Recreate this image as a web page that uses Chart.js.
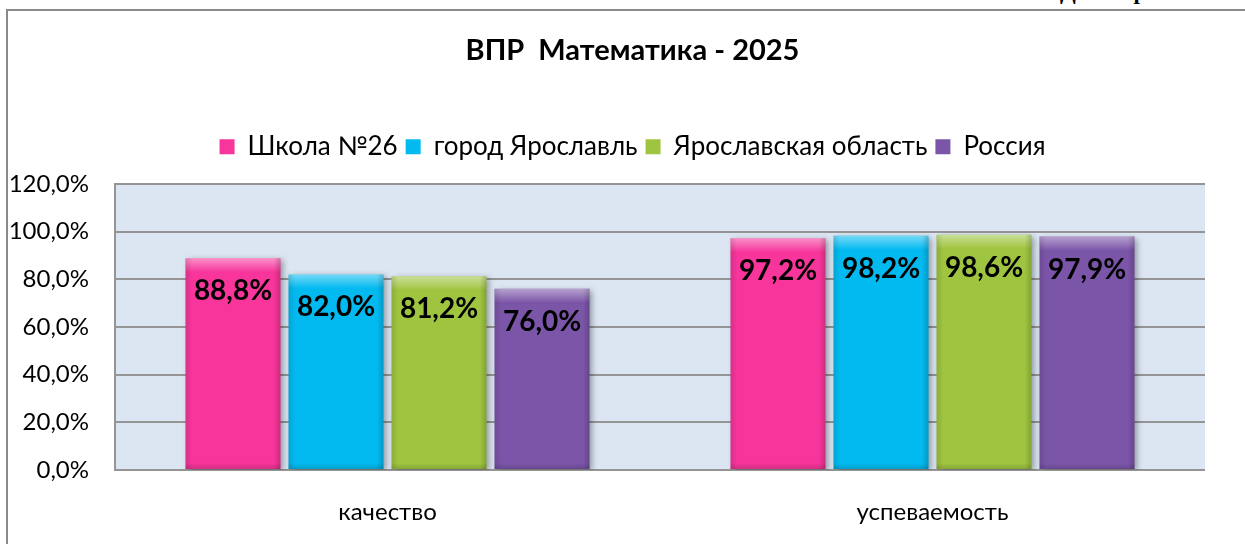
<!DOCTYPE html>
<html>
<head>
<meta charset="utf-8">
<script src="https://cdn.jsdelivr.net/npm/chart.js@4.4.1/dist/chart.umd.min.js"></script>
<style>
  html, body { margin: 0; padding: 0; background: #fff; }
  #wrap { position: relative; width: 1245px; height: 544px; overflow: hidden; }
  #frame { position: absolute; left: 6px; top: 9px; width: 1300px; height: 600px;
           border-left: 2px solid #8a8a8a; border-top: 2px solid #8a8a8a; }
  #cut { position: absolute; top: -21px; left: 1060px; font: bold 23px "Liberation Serif", serif;
         color: #000; word-spacing: 52px; }
  #myChart { position: absolute; left: 0; top: 0; }
</style>
</head>
<body>
<div id="wrap">
  <div id="frame"></div>
  <div id="cut">Д р</div>
  <canvas id="myChart" width="1245" height="544"></canvas>
</div>
<script>
const categories = ['качество', 'успеваемость'];
const seriesNames = ['Школа №26', 'город Ярославль', 'Ярославская область', 'Россия'];
const school = [88.8, 97.2];
const city = [82.0, 98.2];
const region = [81.2, 98.6];
const russia = [76.0, 97.9];
const yTicks = [0, 20, 40, 60, 80, 100, 120];
const barColors = ['#f7359b', '#03baf0', '#9fc540', '#7b55a8'];

const fmt = v => v.toFixed(1).replace('.', ',') + '%';

// plot background + layout tweaks
const plotBg = {
	id: 'plotBg',
	beforeUpdate(chart) {
		// extra room under the legend
		if (chart.legend && !chart.legend._patched) {
			const orig = chart.legend.fit;
			chart.legend.fit = function() {
				orig.call(this);
				this.height += 14;
			};
			chart.legend._patched = true;
		}
	},
	afterLayout(chart) {
		// title and legend sit a bit right of the canvas centre
		[chart.titleBlock, chart.legend].forEach(b => {
			if (b) { b.left += 10; b.right += 10; }
		});
	},
	beforeDraw(chart) {
		const {ctx, chartArea: a} = chart;
		ctx.save();
		ctx.fillStyle = '#dce6f2';
		ctx.fillRect(a.left, a.top, a.right - a.left, a.bottom - a.top);
		ctx.restore();
	}
};

// shadow + bevel look for bars
const barLook = {
	id: 'barLook',
	beforeDatasetsDraw(chart) {
		const ctx = chart.ctx;
		ctx.save();
		ctx.shadowColor = 'rgba(0,0,0,0.35)';
		ctx.shadowBlur = 6;
		ctx.shadowOffsetX = 3;
		ctx.shadowOffsetY = 2;
	},
	afterDatasetsDraw(chart) {
		const ctx = chart.ctx;
		ctx.restore();
		chart.data.datasets.forEach((ds, i) => {
			chart.getDatasetMeta(i).data.forEach(bar => {
				const l = bar.x - bar.width / 2, r = bar.x + bar.width / 2;
				const t = bar.y, b = bar.base;
				ctx.save();
				let g = ctx.createLinearGradient(0, t, 0, t + 14);
				g.addColorStop(0, 'rgba(255,255,255,0.45)');
				g.addColorStop(1, 'rgba(255,255,255,0)');
				ctx.fillStyle = g;
				ctx.fillRect(l, t, r - l, 14);
				g = ctx.createLinearGradient(l, 0, r, 0);
				g.addColorStop(0, 'rgba(0,0,0,0.12)');
				g.addColorStop(0.07, 'rgba(0,0,0,0)');
				g.addColorStop(0.93, 'rgba(0,0,0,0)');
				g.addColorStop(1, 'rgba(0,0,0,0.18)');
				ctx.fillStyle = g;
				ctx.fillRect(l, t, r - l, b - t);
				g = ctx.createLinearGradient(0, b - 6, 0, b);
				g.addColorStop(0, 'rgba(0,0,0,0)');
				g.addColorStop(1, 'rgba(0,0,0,0.15)');
				ctx.fillStyle = g;
				ctx.fillRect(l, b - 6, r - l, 6);
				ctx.restore();
			});
		});
		// value labels
		ctx.save();
		ctx.font = 'bold 28px Lato';
		ctx.fillStyle = '#000';
		ctx.textAlign = 'center';
		ctx.textBaseline = 'middle';
		chart.data.datasets.forEach((ds, i) => {
			chart.getDatasetMeta(i).data.forEach((bar, j) => {
				ctx.fillText(fmt(ds.data[j]), bar.x, bar.y + 33);
			});
		});
		ctx.restore();
	}
};

const allSeries = [school, city, region, russia];

const myChart = document.getElementById('myChart');
let barChart = new Chart(myChart, {
	type: 'bar',
	data: {
		labels: categories,
		datasets: allSeries.map((s, i) => ({
			label: seriesNames[i],
			data: s,
			backgroundColor: barColors[i],
			borderWidth: 0,
			categoryPercentage: 0.756,
			barPercentage: 0.922
		}))
	},
	options: {
		responsive: false,
		animation: false,
		layout: { padding: 0 },
		plugins: {
			tooltip: { enabled: false },
			title: {
				display: true,
				text: 'ВПР  Математика - 2025',
				color: '#000',
				font: { family: 'Lato', size: 29, weight: 'bold', lineHeight: 1.2 },
				padding: { top: 33, bottom: 58 }
			},
			legend: {
				display: true,
				labels: {
					color: '#000',
					font: { family: 'Lato', size: 26 },
					boxWidth: 15,
					boxHeight: 15,
					padding: 8,
					generateLabels(chart) {
						return chart.data.datasets.map((ds, i) => ({
							text: ds.label,
							fillStyle: barColors[i],
							strokeStyle: barColors[i],
							lineWidth: 0,
							datasetIndex: i
						}));
					}
				}
			}
		},
		scales: {
			x: {
				grid: { display: false },
				border: { display: false },
				ticks: { color: '#000', font: { family: 'Lato', size: 24 }, padding: 20 },
				afterFit(scale) { scale.height = 74; }
			},
			y: {
				min: 0,
				max: 120,
				afterBuildTicks(scale) { scale.ticks = yTicks.map(v => ({value: v})); },
				grid: { color: '#959595', lineWidth: 2, drawTicks: false },
				border: { display: true, color: '#959595', width: 2 },
				ticks: {
					color: '#000',
					font: { family: 'Lato', size: 24 },
					padding: 26,
					callback: v => fmt(v)
				},
				afterFit(scale) { scale.width = 115; }
			},
			// empty right-side spacer so the plot stops at the same place
			yRight: {
				position: 'right',
				display: true,
				grid: { display: false, drawOnChartArea: false },
				border: { display: false },
				ticks: { display: false },
				afterFit(scale) { scale.width = 40; }
			}
		}
	},
	plugins: [plotBg, barLook]
});
</script>
</body>
</html>
